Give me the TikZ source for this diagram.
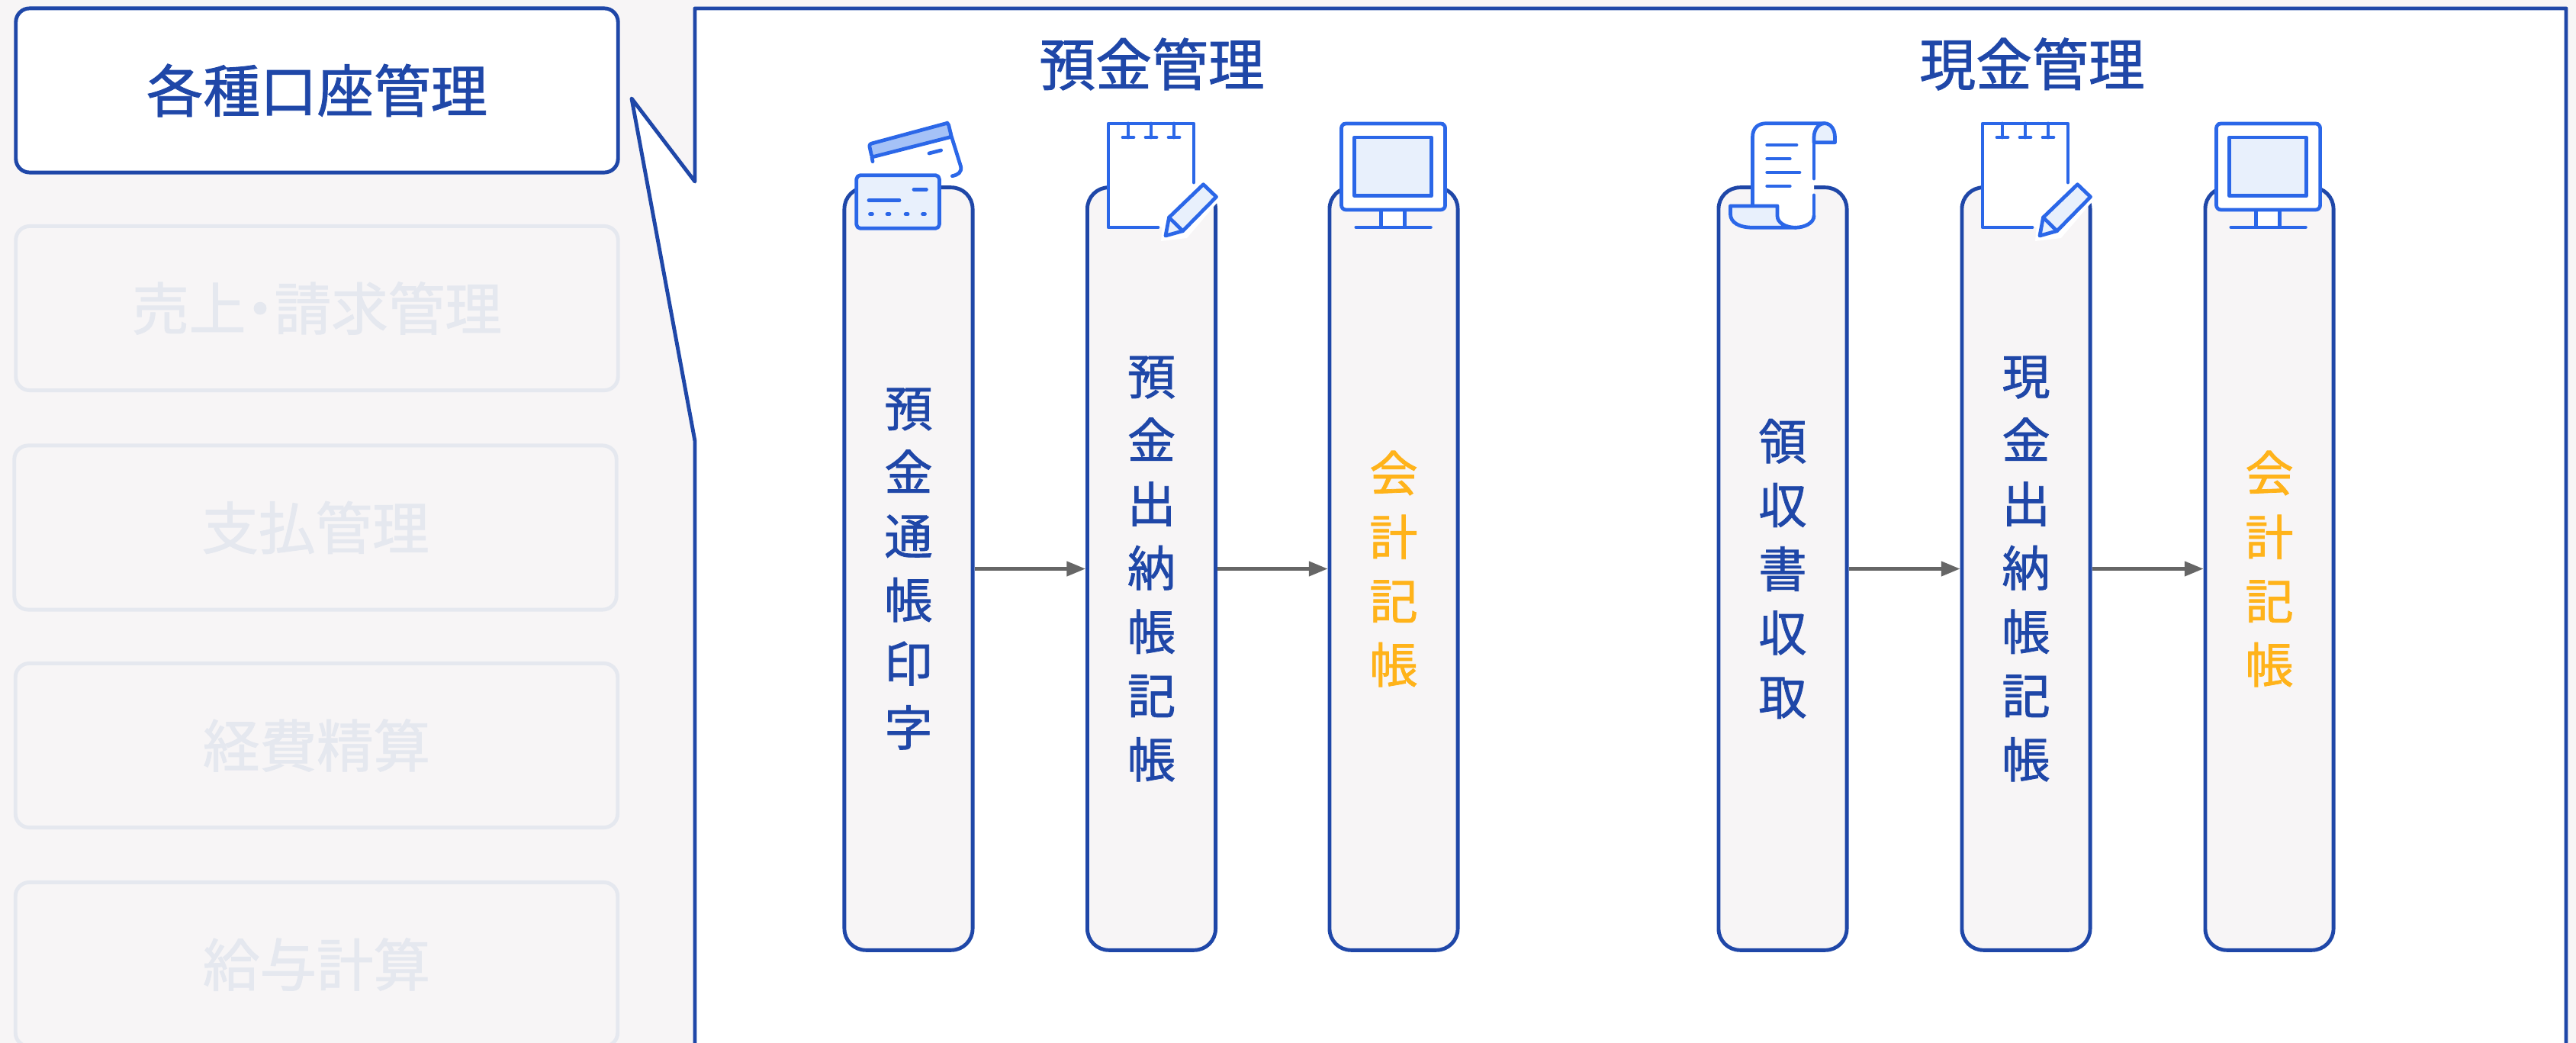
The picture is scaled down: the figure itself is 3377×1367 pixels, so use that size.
\documentclass[tikz,border=0pt]{standalone}
\usepackage{fontspec}
\setmainfont{Noto Sans CJK JP}[RawFeature={embolden=1.2}]
\usetikzlibrary{arrows.meta}
\definecolor{nen}{HTML}{F7F5F6}
\definecolor{xanh}{HTML}{1F47A8}
\definecolor{mo}{HTML}{E5E8EF}
\definecolor{cam}{HTML}{FFB31A}
\definecolor{icon}{HTML}{2B67E8}
\definecolor{nhat}{HTML}{E8F0FC}
\definecolor{vua}{HTML}{A5C2F7}
\tikzset{
 menu/.style={draw=mo,fill=nen,text=mo,line width=1.4pt,rounded corners=0.18cm,minimum width=7.89cm,minimum height=2.15cm,inner sep=0pt,font=\fontsize{21.2}{24}\selectfont},
 menuon/.style={menu,draw=xanh,fill=white,text=xanh},
 head/.style={text=xanh,inner sep=0pt,font=\fontsize{21}{24}\selectfont},
 stage/.style={draw=xanh,fill=nen,text=xanh,line width=1.4pt,rounded corners=0.28cm,minimum width=1.68cm,minimum height=9.99cm,inner sep=0pt,align=center,font=\fontsize{18}{23.8}\selectfont},
 stageo/.style={stage,text=cam},
 flow/.style={draw=black!60,line width=1.2pt,-{Triangle[length=7pt,width=5.4pt]}},
 ic/.style={draw=icon,line width=1.35pt,line join=round,line cap=round}
}
\newcommand{\notepad}[1]{\begin{scope}[shift={(#1,0)}]
 \fill[white] (1453,162) rectangle (1565,298);
 \draw[ic] (1518,298)--(1453,298)--(1453,162)--(1565,162)--(1565,239);
 \foreach \x in {1479,1509,1539} \draw[ic] (\x,162)--(\x,180) (\x-7,180)--(\x+7,180);
 \fill[white] (1575,232)--(1602,258)--(1556,312)--(1522,316)--(1525,285)--cycle;
 \draw[ic,fill=nhat] (1577.5,241.7)--(1594.5,258)--(1550.6,302.7)--(1528,309)--(1532.5,285)--cycle;
 \draw[ic] (1532.5,285)--(1550.6,302.7);
\end{scope}}
\newcommand{\monitor}[1]{\begin{scope}[shift={(#1,0)}]
 \draw[ic,fill=white] (1810.7,275)--(1810.7,298)--(1841.4,298)--(1841.4,275);
 \draw[ic,fill=white,rounded corners=0.06cm] (1758.5,162) rectangle (1894.6,275);
 \draw[ic] (1762,162)--(1891,162);
 \draw[ic,fill=nhat] (1775.6,180) rectangle (1876.5,256.7);
 \draw[ic] (1777.8,298)--(1875.4,298);
\end{scope}}
\begin{document}
\begin{tikzpicture}[x=0.01cm,y=-0.01cm]
 \useasboundingbox (0,0) rectangle (3377,1367);
 \clip (0,0) rectangle (3377,1367);
 \fill[nen] (0,0) rectangle (3377,1367);
 % menu
 \node[menuon] (m1) at (415.5,118.5) {各種口座管理};
 \node[menu] (m2) at (415.5,404) {売上\kern-.25em・\kern-.25em請求管理};
 \node[menu] (m3) at (413.5,691.5) {支払管理};
 \node[menu] (m4) at (415,977) {経費精算};
 \node[menu] (m5) at (415,1264) {給与計算};
 % khung
 \draw[draw=xanh,fill=white,line width=1.4pt,line join=round] (911,238)--(911,11)--(3364,11)--(3364,1400)--(911,1400)--(911,578)--(828,129)--cycle;
 \node[head] (t1) at (1510,84) {預金管理};
 \node[head] (t2) at (2664,84) {現金管理};
 \node[stage] (a1) at (1191,745.5) {預\\金\\通\\帳\\印\\字};
 \node[stage] (a2) at (1509.5,745.5) {預\\金\\出\\納\\帳\\記\\帳};
 \node[stageo] (a3) at (1827,745.5) {会\\計\\記\\帳};
 \node[stage] (b1) at (2337,745.5) {領\\収\\書\\収\\取};
 \node[stage] (b2) at (2656,745.5) {現\\金\\出\\納\\帳\\記\\帳};
 \node[stageo] (b3) at (2975,745.5) {会\\計\\記\\帳};
 \foreach \i/\j in {a1/a2,a2/a3,b1/b2,b2/b3}
 \draw[flow] (\i)--(\j);
 % card
 \draw[ic] (1241.8,161)--(1259.5,218) .. controls (1261,226) and (1256,229) .. (1248.4,230.7);
 \draw[ic,fill=vua,rounded corners=0.03cm] (1139.2,189)--(1243,161)--(1247.3,179.3)--(1143,206)--cycle;
 \draw[ic] (1143,206)--(1144,211.7) (1218,201)--(1233.6,197);
 \draw[ic,fill=nhat,rounded corners=0.05cm] (1122.8,229.7) rectangle (1231.4,299.3);
 \draw[ic] (1198,248.3)--(1214.4,248.3) (1139,262.7)--(1179,262.7);
 \foreach \x in {1142,1164.5,1188.6,1211} \draw[ic] (\x-1.5,280.7)--(\x+1.5,280.7);
 % scroll
 \fill[white] (2297.5,270)--(2297.5,180) .. controls (2297.5,168) and (2304,161.7) .. (2316,161.7)--(2392,161.7)--(2378,183)--(2378,283) .. controls (2378,292) and (2366,298.3) .. (2353.4,298.3) .. controls (2341,298.3) and (2330,292) .. (2330,283)--(2330,270)--cycle;
 \draw[ic] (2297.5,270)--(2297.5,180) .. controls (2297.5,168) and (2304,161.7) .. (2316,161.7)--(2392,161.7);
 \draw[ic,fill=nhat] (2392,161.7) .. controls (2400,161.7) and (2405.5,170) .. (2405.5,180)--(2405.5,186.7)--(2378,186.7)--(2378,180) .. controls (2378,170) and (2384,161.7) .. (2392,161.7)--cycle;
 \draw[ic] (2378,186.7)--(2378,234) (2378,256)--(2378,283);
 \draw[ic,fill=nhat] (2268.4,270)--(2330,270)--(2330,283) .. controls (2330,292) and (2341,298.3) .. (2353.4,298.3)--(2298.6,298.3) .. controls (2280,298.3) and (2268.4,292) .. (2268.4,280)--cycle;
 \draw[ic] (2378,283) .. controls (2378,292) and (2366,298.3) .. (2353.4,298.3);
 \foreach \y/\x in {190/2355,208/2346.3,226/2359,244/2346.3} \draw[ic] (2316.7,\y)--(\x,\y);
 % icon
 \notepad{0}
 \notepad{1146}
 \monitor{0}
 \monitor{1147}
\end{tikzpicture}
\end{document}
